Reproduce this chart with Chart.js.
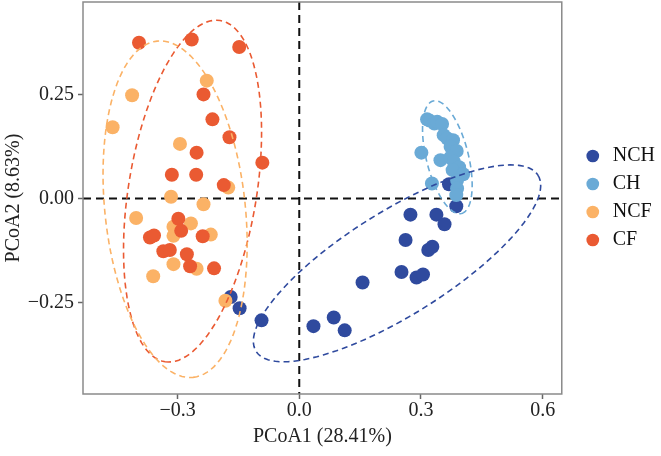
<!DOCTYPE html>
<html>
<head>
<meta charset="utf-8">
<script src="https://cdn.jsdelivr.net/npm/chart.js@4"></script>
<style>
  html, body { margin: 0; padding: 0; background: #fff; }
  #wrap { width: 661px; height: 456px; }
</style>
</head>
<body>
<div id="wrap"><canvas id="c"></canvas></div>
<script>
// groups and colours
const groups = ['NCH', 'CH', 'NCF', 'CF'];
const colors = ['#2f4a9e', '#6aaad6', '#fbb266', '#ea5a32'];

// PCoA1 / PCoA2 scores
const nch = [[-0.169,-0.237],[-0.147,-0.264],[-0.093,-0.293],[0.035,-0.307],[0.085,-0.286],[0.112,-0.317],
  [0.156,-0.202],[0.252,-0.177],[0.289,-0.190],[0.305,-0.183],[0.262,-0.100],[0.318,-0.124],[0.328,-0.116],
  [0.274,-0.039],[0.338,-0.039],[0.358,-0.062],[0.387,-0.019],[0.369,0.034]];
const ch = [[0.315,0.190],[0.321,0.187],[0.333,0.180],[0.340,0.184],[0.352,0.179],[0.356,0.152],[0.365,0.144],
  [0.379,0.140],[0.373,0.124],[0.388,0.114],[0.301,0.110],[0.348,0.092],[0.372,0.098],[0.381,0.088],
  [0.394,0.075],[0.378,0.068],[0.404,0.058],[0.327,0.036],[0.389,0.044],[0.389,0.024],[0.387,0.008]];
const ncf = [[-0.228,0.283],[-0.412,0.248],[-0.460,0.171],[-0.294,0.131],[-0.175,0.026],[-0.316,0.004],
  [-0.236,-0.014],[-0.402,-0.047],[-0.310,-0.068],[-0.267,-0.060],[-0.310,-0.090],[-0.218,-0.087],
  [-0.310,-0.158],[-0.253,-0.169],[-0.360,-0.187],[-0.182,-0.246]];
const cf = [[-0.395,0.374],[-0.265,0.382],[-0.148,0.364],[-0.236,0.250],[-0.214,0.190],[-0.172,0.147],
  [-0.253,0.110],[-0.091,0.086],[-0.314,0.057],[-0.254,0.057],[-0.186,0.032],[-0.298,-0.049],[-0.291,-0.078],
  [-0.368,-0.094],[-0.358,-0.089],[-0.238,-0.091],[-0.335,-0.127],[-0.319,-0.124],[-0.277,-0.134],
  [-0.269,-0.163],[-0.210,-0.168]];

// confidence ellipses: centre x, centre y, then two conjugate half-axis vectors (ux, uy, vx, vy)
const nchEllipse = [0.241, -0.156, 0.3475, 0.2115, 0.068, -0.106];
const chEllipse = [0.365, 0.099, 0.0348, -0.1353, 0.0503, 0.0123];
const ncfEllipse = [-0.306, -0.026, 0.0444, -0.404, 0.172, 0.018];
const cfEllipse = [-0.263, 0.0175, -0.0679, -0.410, 0.156, -0.0245];

// ticks
const xTicks = [-0.3, 0, 0.3, 0.6];
const xTickLabels = ['\u22120.3', '0.0', '0.3', '0.6'];
const yTicks = [-0.25, 0, 0.25];
const yTickLabels = ['\u22120.25', '0.00', '0.25'];

const FONT = 'Liberation Serif';

const toXY = arr => arr.map(p => ({ x: p[0], y: p[1] }));

const ellipsePoints = e => {
  const pts = [];
  for (let i = 0; i <= 120; i++) {
    const t = i / 120 * Math.PI * 2;
    pts.push({ x: e[0] + e[2] * Math.cos(t) + e[4] * Math.sin(t),
               y: e[1] + e[3] * Math.cos(t) + e[5] * Math.sin(t) });
  }
  return pts;
};

const pointSets = [nch, ch, ncf, cf];
const ellipses = [nchEllipse, chEllipse, ncfEllipse, cfEllipse];

const datasets = [];
groups.forEach((g, i) => {
  datasets.push({
    label: g,
    data: toXY(pointSets[i]),
    backgroundColor: colors[i],
    borderColor: colors[i],
    borderWidth: 0,
    pointRadius: 7,
    pointHoverRadius: 7,
    order: 4 - i + 1,
  });
});
groups.forEach((g, i) => {
  datasets.push({
    type: 'line',
    label: g + ' ellipse',
    data: ellipsePoints(ellipses[i]),
    showLine: true,
    fill: false,
    borderColor: colors[i],
    borderWidth: 1.6,
    borderDash: [6, 4],
    pointRadius: 0,
    tension: 0,
    order: 0,
  });
});

// dashed zero lines and the box round the panel
const framePlugin = {
  id: 'frame',
  beforeDatasetsDraw(chart) {
    const { ctx, chartArea: a, scales: { x, y } } = chart;
    const x0 = x.getPixelForValue(0), y0 = y.getPixelForValue(0);
    ctx.save();
    ctx.strokeStyle = '#111';
    ctx.lineWidth = 2;
    ctx.setLineDash([8, 5]);
    ctx.beginPath();
    ctx.moveTo(x0, a.top); ctx.lineTo(x0, a.bottom);
    ctx.moveTo(a.left, y0); ctx.lineTo(a.right, y0);
    ctx.stroke();
    ctx.restore();
  },
  afterDraw(chart) {
    const { ctx, chartArea: a } = chart;
    ctx.save();
    ctx.strokeStyle = '#8a8a8a';
    ctx.lineWidth = 1.5;
    ctx.strokeRect(a.left, a.top, a.right - a.left, a.bottom - a.top);
    ctx.restore();
  }
};

new Chart(document.getElementById('c'), {
  type: 'scatter',
  data: { datasets },
  plugins: [framePlugin],
  options: {
    responsive: true,
    maintainAspectRatio: false,
    animation: false,
    devicePixelRatio: 1,
    layout: { autoPadding: false, padding: { top: 2, right: -4, left: 0, bottom: 0 } },
    plugins: {
      tooltip: { enabled: false },
      legend: {
        position: 'right',
        fullSize: false,
        labels: {
          usePointStyle: true,
          pointStyle: 'circle',
          boxWidth: 20,
          boxHeight: 9,
          padding: 8,
          color: '#111',
          font: { family: FONT, size: 20 },
          filter: item => item.datasetIndex < 4,
          sort: (a, b) => a.datasetIndex - b.datasetIndex,
        },
      },
    },
    scales: {
      x: {
        type: 'linear',
        min: -0.533,
        max: 0.647,
        afterBuildTicks: s => { s.ticks = xTicks.map(v => ({ value: v })); },
        afterFit: s => { s.height = 62; s.paddingLeft = 0; s.paddingRight = 0; },
        ticks: {
          callback: v => xTickLabels[xTicks.findIndex(t => Math.abs(t - v) < 1e-9)],
          color: '#222',
          font: { family: FONT, size: 20 },
          padding: 0,
        },
        grid: { drawOnChartArea: false, tickLength: 5, tickColor: '#666', tickWidth: 1.5 },
        border: { display: false },
        title: { display: true, text: 'PCoA1 (28.41%)', color: '#222', font: { family: FONT, size: 20 }, padding: { top: 0, bottom: 7 } },
      },
      y: {
        type: 'linear',
        min: -0.470,
        max: 0.472,
        afterBuildTicks: s => { s.ticks = yTicks.map(v => ({ value: v })); },
        afterFit: s => { s.width = 83; s.paddingTop = 0; s.paddingBottom = 0; },
        ticks: {
          callback: v => yTickLabels[yTicks.findIndex(t => Math.abs(t - v) < 1e-9)],
          color: '#222',
          font: { family: FONT, size: 20 },
          padding: 4,
        },
        grid: { drawOnChartArea: false, tickLength: 5, tickColor: '#666', tickWidth: 1.5 },
        border: { display: false },
        title: { display: true, text: 'PCoA2 (8.63%)', color: '#222', font: { family: FONT, size: 20 }, padding: { top: 2, bottom: 0 } },
      },
      // empty strip between the panel and the legend
      gap: {
        type: 'linear',
        position: 'right',
        ticks: { display: false },
        grid: { display: false },
        border: { display: false },
        afterFit: s => { s.width = 13; s.paddingTop = 0; s.paddingBottom = 0; },
      },
    },
  },
});
</script>
</body>
</html>
